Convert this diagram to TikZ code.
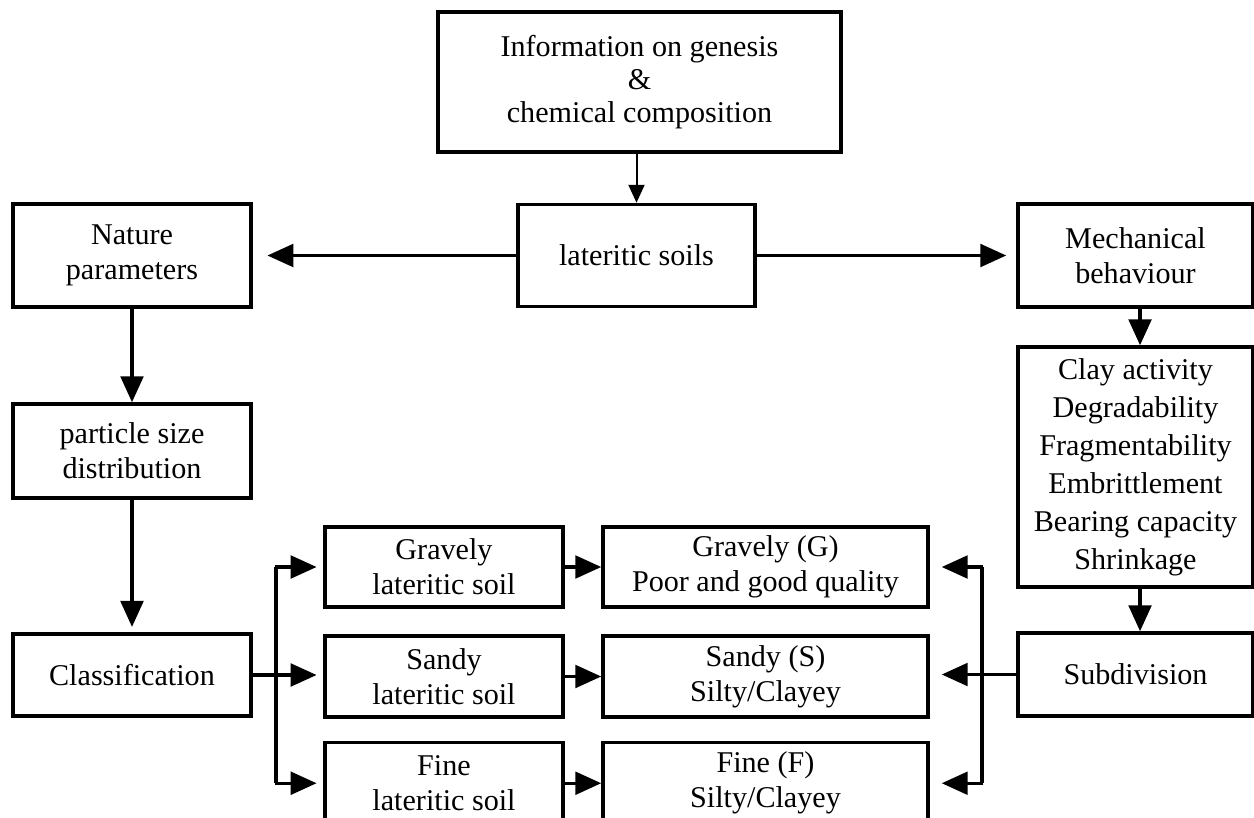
\documentclass[tikz,border=0pt]{standalone}
\usepackage{fontspec}
\setmainfont{Liberation Serif}
\usetikzlibrary{arrows.meta,calc}
\begin{document}
\begin{tikzpicture}[x=0.75pt,y=-0.75pt,
  bx/.style 2 args={draw, line width=2.6pt, align=center, inner sep=0pt,
    minimum width=#1*0.75pt, minimum height=#2*0.75pt,
    font=\fontsize{22.6}{26.25}\selectfont},
  conn/.style={line width=2.6pt},
  arr/.style={line width=2.6pt, -{Triangle[length=19.5pt,width=17pt]}},
  thinarr/.style={line width=1.5pt, -{Triangle[length=13.5pt,width=12pt]}}]
\useasboundingbox (0,0) rectangle (1254,818);
\clip (0,0) rectangle (1254,818);
\fill[white] (0,0) rectangle (1254,818);
% boxes
\node[bx={403}{140}, font=\fontsize{22.6}{24.75}\selectfont] (info) at (639.5,82) {Information on genesis\\\&\\chemical composition};
\node[bx={237}{102}] (lat) at (636.5,255.5) {lateritic soils};
\node[bx={238}{103}] (nat) at (132,255.5) {Nature\\parameters};
\node[bx={235}{103}] (mech) at (1135.5,255.5) {Mechanical\\behaviour};
\node[bx={235}{240}, font=\fontsize{22.6}{28.5}\selectfont] (list) at (1135.5,467) {Clay activity\\Degradability\\Fragmentability\\Embrittlement\\Bearing capacity\\Shrinkage};
\node[bx={235}{83}] (sub) at (1135.5,674.5) {Subdivision};
\node[bx={238}{94}] (psd) at (132,451) {particle size\\distribution};
\node[bx={238}{82}] (cls) at (132,675) {Classification};
\node[bx={238}{80}] (gls) at (444,567) {Gravely\\lateritic soil};
\node[bx={238}{81}] (sls) at (444,676.5) {Sandy\\lateritic soil};
\node[bx={238}{81}, anchor=north] (fls) at (444,741) {Fine\\lateritic soil};
\node[bx={325}{80}] (gG) at (765.5,567) {Gravely (G)\\Poor and good quality};
\node[bx={325}{81}] (sS) at (765.5,676.5) {Sandy (S)\\Silty/Clayey};
\node[bx={325}{81}, anchor=north] (fF) at (765.5,741) {Fine (F)\\Silty/Clayey};
% connectors
\draw[thinarr] (info.south -| lat.north) -- (lat.north);
\draw[arr, shorten >=11pt] (lat.west) -- (lat.west -| nat.east);
\draw[arr, shorten >=7.5pt] (lat.east) -- (lat.east -| mech.west);
\draw[arr] (nat.south) -- (psd.north);
\draw[arr, shorten >=4pt] (psd.south) -- (cls.north);
\draw[arr] ([xshift=3.4pt]mech.south) -- ([xshift=3.4pt]list.north);
\draw[arr] ([xshift=3.4pt]list.south) -- ([xshift=3.4pt]sub.north);
% left branch
\coordinate (bl) at (276,0);
\draw[conn] (bl |- gls.west) -- (bl |- fls.west);
\draw[arr, shorten >=5pt] (cls.east) -- (cls.east -| sls.west);
\draw[arr, shorten >=5pt] ($(bl |- gls.west)+(-1.3,0)$) -- (gls.west);
\draw[arr, shorten >=5pt] ($(bl |- fls.west)+(-1.3,0)$) -- (fls.west);
% middle arrows
\draw[arr] (gls.east) -- (gG.west);
\draw[arr] (sls.east) -- (sS.west);
\draw[arr] (fls.east) -- (fF.west);
% right branch
\coordinate (br) at (982,0);
\draw[conn] (br |- gG.east) -- (br |- fF.east);
\draw[arr, shorten >=9pt] (sub.west) -- (sub.west -| sS.east);
\draw[arr, shorten >=9pt] ($(br |- gG.east)+(1.3,0)$) -- (gG.east);
\draw[arr, shorten >=9pt] ($(br |- fF.east)+(1.3,0)$) -- (fF.east);
\end{tikzpicture}
\end{document}
